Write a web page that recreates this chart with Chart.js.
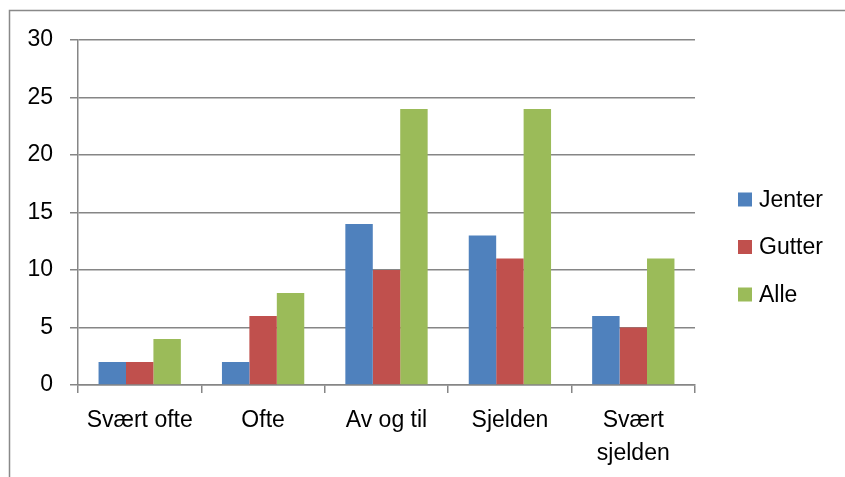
<!DOCTYPE html>
<html>
<head>
<meta charset="utf-8">
<script src="https://cdn.jsdelivr.net/npm/chart.js@4"></script>
<style>
  html, body { margin: 0; padding: 0; background: #ffffff; }
  #wrap { width: 845px; height: 477px; position: relative; }
</style>
</head>
<body>
<div id="wrap"><canvas id="c" width="845" height="477"></canvas></div>
<script>
const categories = ["Svært ofte", "Ofte", "Av og til", "Sjelden", ["Svært", "sjelden"]];
const seriesNames = ["Jenter", "Gutter", "Alle"];
const jenter = [2, 2, 14, 13, 6];
const gutter = [2, 6, 10, 11, 5];
const alle = [4, 8, 24, 24, 11];
const yTicks = [0, 5, 10, 15, 20, 25, 30];
const colors = ["#4F81BD", "#C0504D", "#9BBB59"];

const FONT = "'Liberation Sans', Arial, sans-serif";
const GRID = "#868686";
const FS = 23;

const frame = {
  id: 'frame',
  beforeDraw(chart) {
    const ctx = chart.ctx;
    ctx.save();
    ctx.fillStyle = '#ffffff';
    ctx.fillRect(0, 0, chart.width, chart.height);
    ctx.strokeStyle = '#898989';
    ctx.lineWidth = 1.5;
    ctx.beginPath();
    ctx.moveTo(9.5, chart.height);
    ctx.lineTo(9.5, 10.5);
    ctx.lineTo(chart.width, 10.5);
    ctx.stroke();
    ctx.restore();
  }
};

const legendPlugin = {
  id: 'customLegend',
  afterDraw(chart) {
    const ctx = chart.ctx;
    ctx.save();
    ctx.font = FS + "px " + FONT;
    ctx.textBaseline = 'middle';
    ctx.textAlign = 'left';
    chart.data.datasets.forEach((ds, i) => {
      const cy = 199.5 + i * 47.5;
      ctx.fillStyle = ds.backgroundColor;
      ctx.fillRect(738, cy - 7, 14, 14);
      ctx.fillStyle = '#000000';
      ctx.fillText(ds.label, 759, cy + 1);
    });
    ctx.restore();
  }
};

new Chart(document.getElementById('c'), {
  type: 'bar',
  data: {
    labels: categories,
    datasets: [
      { label: seriesNames[0], data: jenter, backgroundColor: colors[0] },
      { label: seriesNames[1], data: gutter, backgroundColor: colors[1] },
      { label: seriesNames[2], data: alle, backgroundColor: colors[2] }
    ]
  },
  options: {
    responsive: false,
    animation: false,
    devicePixelRatio: 1,
    layout: { padding: { left: 0, top: 40, right: 150, bottom: 0 } },
    datasets: { bar: { categoryPercentage: 0.667, barPercentage: 1.0, borderWidth: 0 } },
    plugins: { legend: { display: false }, tooltip: { enabled: false } },
    scales: {
      x: {
        offset: true,
        grid: { offset: true, drawOnChartArea: false, drawTicks: true, tickLength: 8, color: GRID, lineWidth: 1.5 },
        border: { color: GRID, width: 1.5 },
        ticks: { color: '#000000', font: { family: FONT, size: FS, lineHeight: 1.4 }, padding: 12, maxRotation: 0, autoSkip: false },
        afterFit(scale) { scale.height = 92; }
      },
      y: {
        min: 0, max: 30,
        afterBuildTicks(scale) { scale.ticks = yTicks.map(v => ({ value: v })); },
        grid: { color: GRID, lineWidth: 1.5, drawTicks: true, tickLength: 8 },
        border: { color: GRID, width: 1.5 },
        ticks: { color: '#000000', font: { family: FONT, size: FS }, padding: 17 },
        afterFit(scale) { scale.width = 78; }
      }
    }
  },
  plugins: [frame, legendPlugin]
});
</script>
</body>
</html>
